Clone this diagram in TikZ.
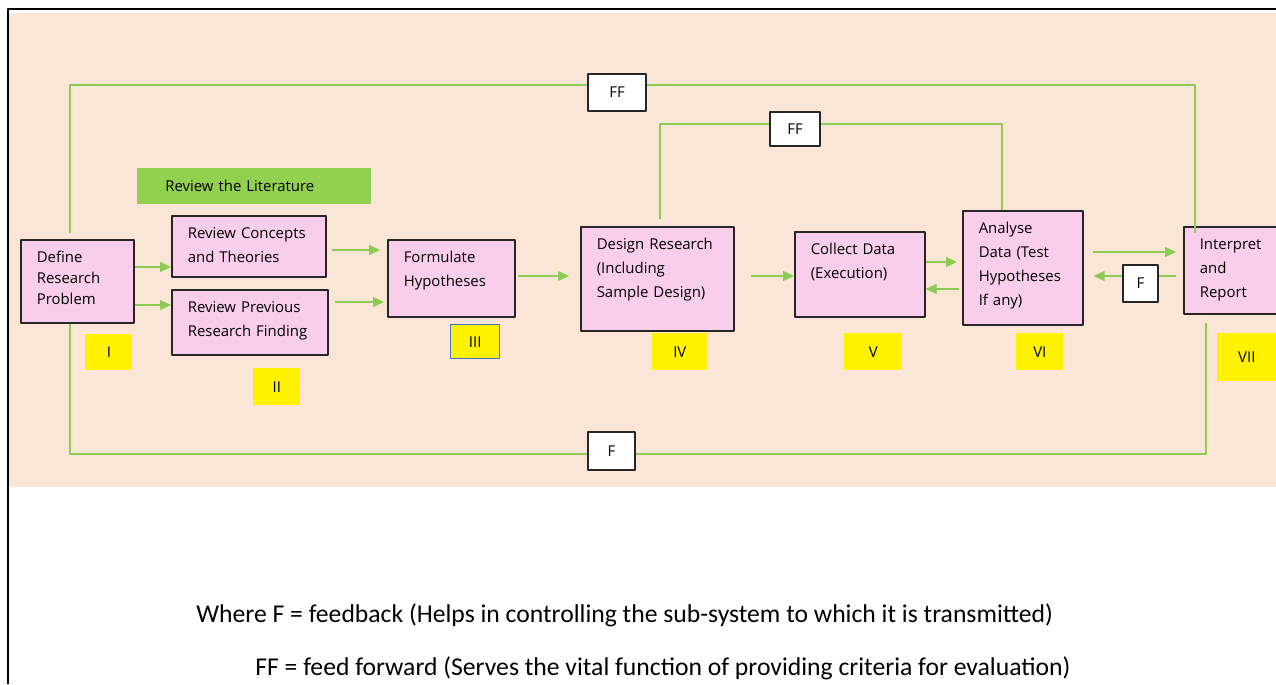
\documentclass[tikz,border=0pt]{standalone}
\usepackage{fontspec}
\setmainfont{Open Sans}
\newfontfamily\capfont{Carlito}
\usetikzlibrary{arrows.meta}

\definecolor{peach}{RGB}{251,229,214}
\definecolor{boxpink}{RGB}{249,206,236}
\definecolor{litgreen}{RGB}{146,208,80}
\definecolor{fgreen}{RGB}{138,204,84}
\definecolor{numblue}{RGB}{68,114,196}

\begin{document}
\begin{tikzpicture}[x=0.02cm, y=-0.02cm, font=\fontsize{8.5}{13.6}\selectfont, line join=round,
		>={Triangle[length=0.22cm,width=0.2cm]},
		box/.style={draw=black!85, line width=0.9pt, fill=boxpink, anchor=north west,
			align=left, inner xsep=0.32cm, inner ysep=0pt, text height=0.46cm},
		lit/.style={fill=litgreen, anchor=north west, align=left, inner xsep=0.56cm, inner ysep=0pt},
		num/.style={fill=yellow, anchor=north west, inner sep=0pt},
		fbox/.style={draw=black!85, line width=0.9pt, fill=white, inner sep=0pt},
		fline/.style={draw=fgreen, line width=0.8pt},
		arr/.style={fline, ->},
		key/.style={anchor=base west, inner sep=0pt, font=\capfont\fontsize{14.6}{17}\selectfont}]
		\useasboundingbox (0,0) rectangle (1276,684);
		\fill[peach] (9,13) rectangle (1276,487);
		\draw[line width=0.9pt] (8,684) -- (8,9) -- (1276,9);
		
		% the seven stages
		\node[box, text width=1.62cm, text depth=1.20cm] (prob) at (20,239) {Define\\[-1.7pt]Research\\[-1.7pt]Problem};
		\node[box, text width=2.44cm, text depth=0.76cm] (conc) at (171,215) {Review Concepts\\and Theories};
		\node[box, text width=2.48cm, text depth=0.84cm] (prev) at (171,289) {Review Previous\\Research Finding};
		\node[box, text width=1.90cm, text depth=1.08cm] (hyp) at (387,239) {Formulate\\Hypotheses};
		\node[box, text width=2.42cm, text depth=1.62cm] (design) at (580,226) {Design Research\\(Including\\Sample Design)};
		\node[box, text width=1.96cm, text depth=1.24cm] (coll) at (794,231) {Collect Data\\(Execution)};
		\node[box, text width=1.76cm, text depth=1.82cm] (anal) at (962,210) {Analyse\\Data (Test\\Hypotheses\\If any)};
		\node[box, text width=1.56cm, text depth=1.28cm] (interp) at (1183,226) {Interpret\\and\\Report};
		\node[lit, text width=3.56cm, minimum height=0.72cm] (litrev) at (137,168) {Review the Literature};
		
		% stage numbers
		\node[num, minimum width=0.94cm, minimum height=0.72cm] (n1) at (85,334) {I};
		\node[num, minimum width=0.94cm, minimum height=0.74cm] (n2) at (253,368) {II};
		\node[num, draw=numblue, line width=0.8pt, minimum width=0.98cm, minimum height=0.68cm] (n3) at (450,324) {III};
		\node[num, minimum width=1.10cm, minimum height=0.74cm] (n4) at (652,333) {IV};
		\node[num, minimum width=1.16cm, minimum height=0.74cm] (n5) at (844,333) {V};
		\node[num, minimum width=0.94cm, minimum height=0.74cm] (n6) at (1016,333) {VI};
		\node[num, minimum width=1.18cm, minimum height=0.96cm] (n7) at (1217,333) {VII};
		
		% feed forward and feedback loops
		\draw[fline, shorten <=0.12cm, shorten >=-0.14cm] (prob.north -| 70,0) |- (1195,85) -- (interp.north -| 1195,0);
		\draw[fline, shorten <=0.14cm] (design.north -| 660,0) |- (1002,124) -- (anal.north -| 1002,0);
		\draw[fline, shorten >=0.16cm] (prob.south -| 70,0) |- (1206,454) -- (interp.south -| 1206,0);
		
		% forward flow
		\draw[arr] (prob.east |- 0,267) -- (conc.west |- 0,267);
		\draw[arr] (prob.east |- 0,305) -- (prev.west |- 0,305);
		\draw[arr, shorten <=0.1cm, shorten >=0.14cm] (conc.east |- 0,250) -- (hyp.west |- 0,250);
		\draw[arr, shorten <=0.12cm, shorten >=0.06cm] (prev.east |- 0,302) -- (hyp.west |- 0,302);
		\draw[arr, shorten <=0.04cm, shorten >=0.22cm] (hyp.east |- 0,276) -- (design.west |- 0,276);
		\draw[arr, shorten <=0.32cm] (design.east |- 0,276) -- (coll.west |- 0,276);
		\draw[arr, shorten >=0.1cm] (coll.east |- 0,262) -- (anal.west |- 0,262);
		\draw[arr, shorten <=0.06cm] (anal.west |- 0,289) -- (coll.east |- 0,289);
		\draw[arr, shorten <=0.18cm, shorten >=0.14cm] (anal.east |- 0,252) -- (interp.west |- 0,252);
		\draw[arr, shorten <=0.14cm, shorten >=0.2cm] (interp.west |- 0,276) -- (anal.east |- 0,276);
		
		\node[fbox, minimum width=1.16cm, minimum height=0.74cm] (ffa) at (617,92.5) {FF};
		\node[fbox, minimum width=1.00cm, minimum height=0.68cm] (ffb) at (795,129) {FF};
		\node[fbox, minimum width=0.70cm, minimum height=0.74cm] (fa) at (1140.5,283.5) {F};
		\node[fbox, minimum width=0.94cm, minimum height=0.76cm] (fb) at (611.5,451) {F};
		
		% key
		\node[key] (keyf) at (196,622) {Where F = feedback (Helps in controlling the sub-system to which it is transmitted)};
		\node[key] (keyff) at (255,675) {FF = feed forward (Serves the vital function of providing criteria for evaluation)};
\end{tikzpicture}
\end{document}
